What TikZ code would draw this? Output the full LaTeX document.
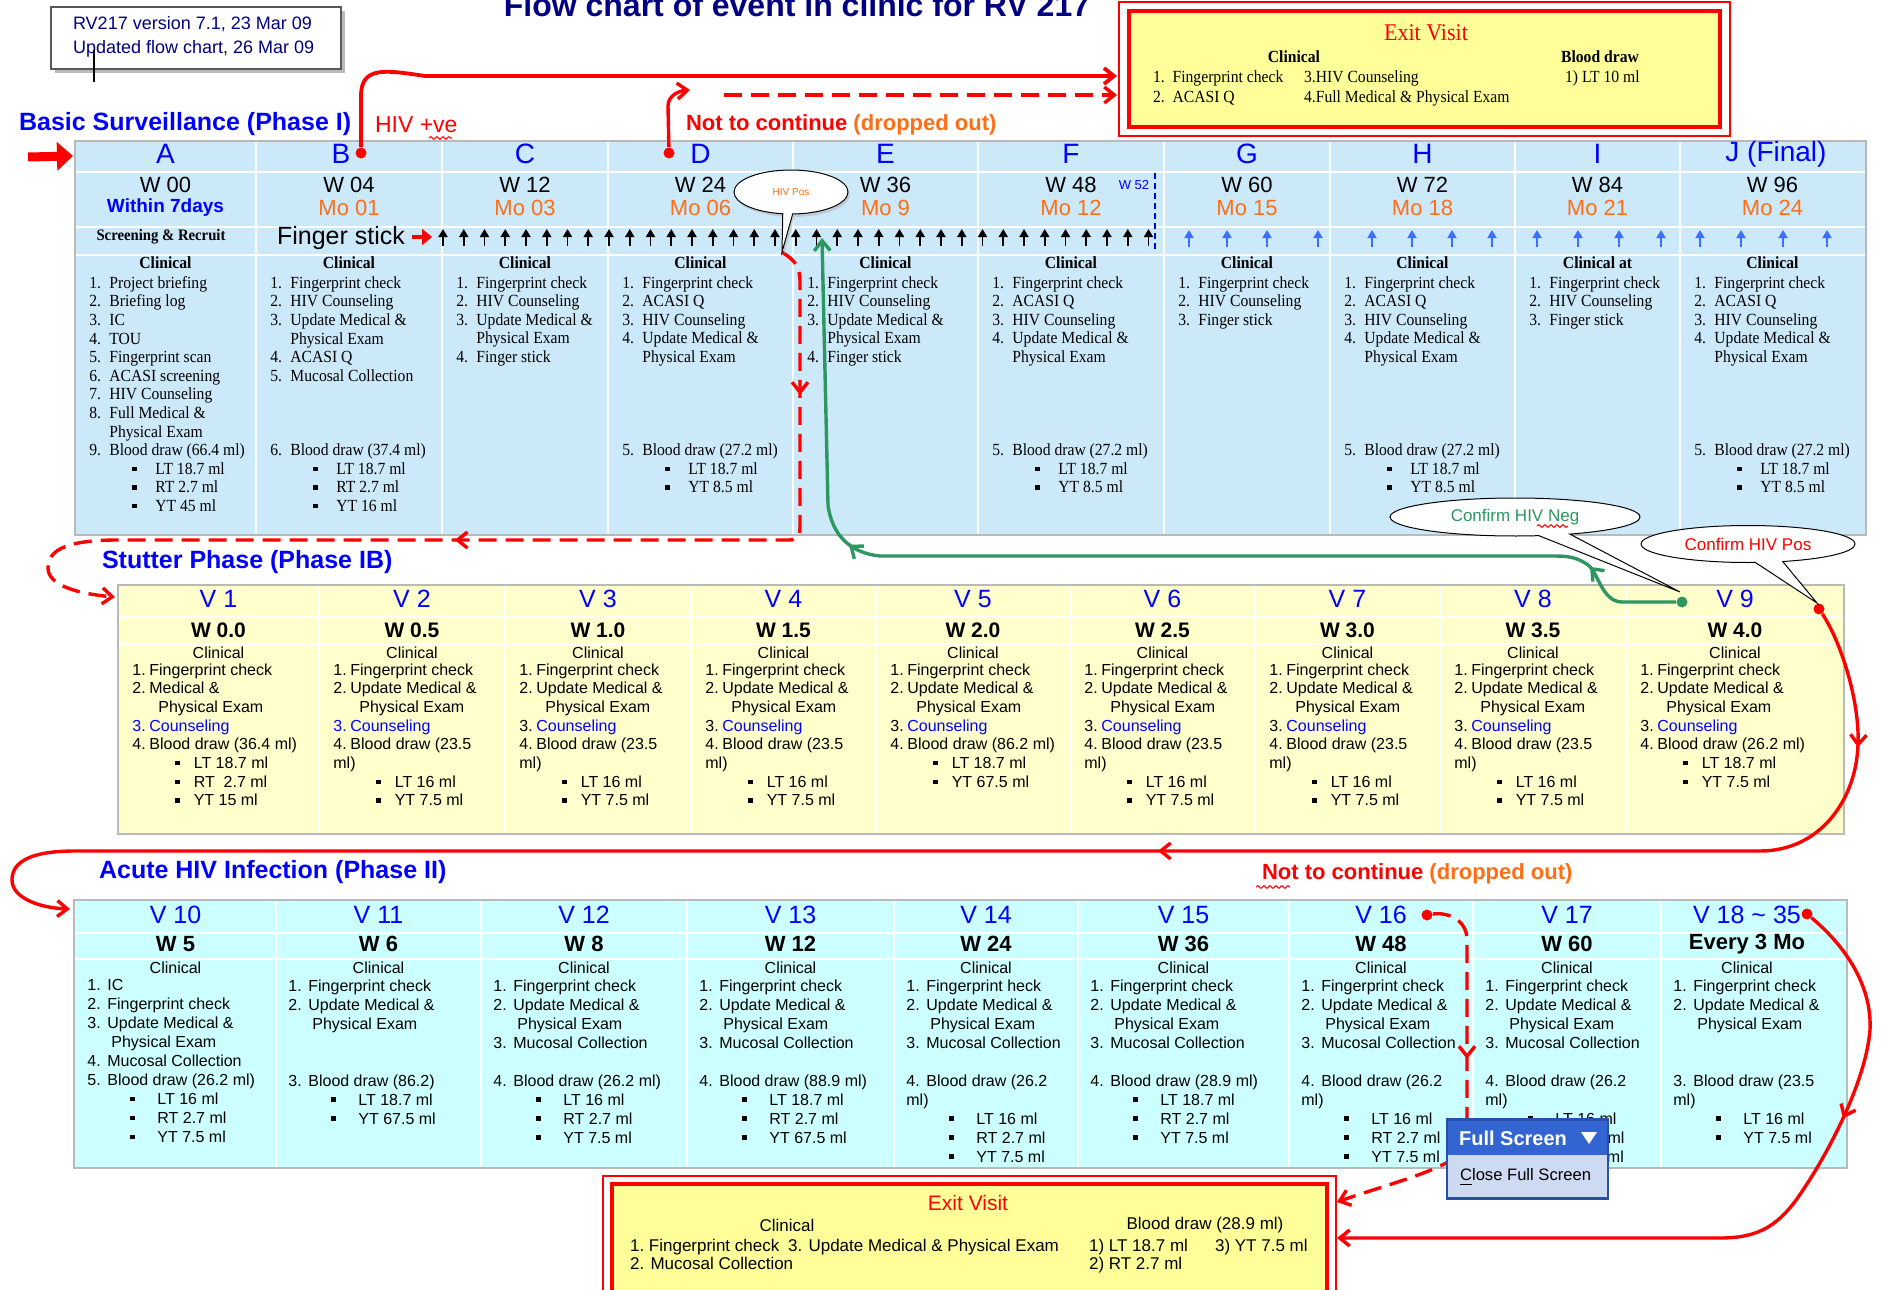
\documentclass[tikz,border=0pt]{standalone}
\usepackage{fontspec}
\setmainfont{Liberation Sans}
\newfontfamily\tnr[FakeStretch=0.92]{Liberation Serif}
\usetikzlibrary{arrows.meta,calc,shapes.callouts,shadows,decorations.markings,decorations.pathmorphing}

\definecolor{pIfill}{RGB}{204,233,250}
\definecolor{pIBfill}{RGB}{255,255,204}
\definecolor{pIIfill}{RGB}{204,255,255}
\definecolor{exfill}{RGB}{255,255,153}
\definecolor{hdblue}{RGB}{0,0,255}
\definecolor{moorange}{RGB}{255,110,20}
\definecolor{navy}{RGB}{0,0,128}
\definecolor{okgreen}{RGB}{46,150,96}
\definecolor{arrblue}{RGB}{60,110,255}
\definecolor{popblue}{RGB}{50,100,210}
\definecolor{poplight}{RGB}{205,218,242}

% list lines of the three tables
\newcommand\pnum[1]{\makebox[10pt][l]{#1}}
\newcommand\pcont{\hspace*{10pt}}
\newcommand\pbul{\hspace*{21.5pt}\rule[1.6pt]{2.2pt}{2.2pt}\hspace*{9.3pt}}
\newcommand\pIshort{\pnum{1.}Fingerprint check\\ \pnum{2.}HIV Counseling\\ \pnum{3.}Finger stick}
\newcommand\pImid{\pnum{1.}Fingerprint check\\ \pnum{2.}HIV Counseling\\ \pnum{3.}Update Medical \&\\ \pcont Physical Exam\\ \pnum{4.}Finger stick}
\newcommand\pIlong{\pnum{1.}Fingerprint check\\ \pnum{2.}ACASI Q\\ \pnum{3.}HIV Counseling\\ \pnum{4.}Update Medical \&\\ \pcont Physical Exam\\ \mbox{}\\ \mbox{}\\ \mbox{}\\ \mbox{}\\ \pnum{5.}Blood draw (27.2 ml)\\ \pbul LT 18.7 ml\\ \pbul YT 8.5 ml}
\newcommand\vnum[1]{\makebox[8.5pt][l]{#1}}
\newcommand\vcont{\hspace*{13pt}}
\newcommand\vbul{\hspace*{21.5pt}\rule[1.6pt]{2.2pt}{2.2pt}\hspace*{7pt}}
\newcommand\vupd{\vnum{1.}Fingerprint check\\ \vnum{2.}Update Medical \&\\ \vcont Physical Exam}
\newcommand\vcoun{\vnum{3.}\textcolor{hdblue}{Counseling}}
\newcommand\vsmall{\vnum{4.}Blood draw (23.5\\ ml)\\ \vbul LT 16 ml\\ \vbul YT 7.5 ml}
\newcommand\anum[1]{\makebox[10pt][l]{#1}}
\newcommand\acont{\hspace*{12pt}}
\newcommand\abul{\hspace*{21.5pt}\rule[1.6pt]{2.2pt}{2.2pt}\hspace*{11.3pt}}
\newcommand\aupd{\anum{1.}Fingerprint check\\ \anum{2.}Update Medical \&\\ \acont Physical Exam}
\newcommand\amuc{\anum{3.}Mucosal Collection\\ \mbox{}}
\newcommand\along{\anum{4.}Blood draw (26.2\\ ml)\\ \abul LT 16 ml\\ \abul RT 2.7 ml\\ \abul YT 7.5 ml}

\begin{document}
\begin{tikzpicture}[x=0.5pt,y=-0.5pt,
	tbl/.style={draw=gray!55,line width=1pt,inner sep=0pt},
	sep/.style={white,line width=1.2pt},
	hdI/.style={text=hdblue,font=\fontsize{14}{16}\selectfont},
	wkI/.style={font=\fontsize{11}{12}\selectfont},
	moI/.style={text=moorange,font=\fontsize{11}{12}\selectfont},
	clI/.style={font=\tnr\bfseries\fontsize{8.5}{10}\selectfont},
	cntI/.style={anchor=north west,inner sep=0pt,align=left,font=\tnr\fontsize{8.5}{9.3}\selectfont,execute at begin node=\strut},
	hdV/.style={text=hdblue,font=\fontsize{12.5}{14}\selectfont},
	wkV/.style={font=\bfseries\fontsize{10.5}{12}\selectfont},
	clV/.style={font=\fontsize{8}{9}\selectfont},
	cntV/.style={anchor=north west,inner sep=0pt,align=left,font=\fontsize{8}{9.35}\selectfont,execute at begin node=\strut},
	cntA/.style={cntV,font=\fontsize{8}{9.5}\selectfont},
	exT/.style={anchor=base west,font=\tnr\fontsize{8.5}{10}\selectfont},
	exB/.style={anchor=base west,font=\fontsize{8.5}{10}\selectfont},
	phase/.style={anchor=west,text=hdblue,font=\bfseries\fontsize{12.5}{14}\selectfont},
	note/.style={anchor=west,font=\bfseries\fontsize{11}{13}\selectfont},
	rdot/.style={circle,fill=red,inner sep=0pt,minimum size=5.5pt},
	gdot/.style={rdot,fill=okgreen},
	flow/.style={red,line width=1.7pt,-{Straight Barb[length=5pt,width=8pt]}},
	drop/.style={flow,dash pattern=on 9pt off 4.5pt},
	okflow/.style={flow,draw=okgreen},
	fsarr/.style={line width=0.9pt,-{Triangle[length=4pt,width=4.5pt]}},
	bubble/.style={ellipse callout,draw,fill=white,line width=0.5pt,inner sep=0pt},
	mark1/.style={postaction={decorate,decoration={markings,mark=at position #1 with {\arrow{Straight Barb[length=5pt,width=8pt]}}}}},
	mark2/.style 2 args={postaction={decorate,decoration={markings,mark=at position #1 with {\arrow{Straight Barb[length=5pt,width=8pt]}},mark=at position #2 with {\arrow{Straight Barb[length=5pt,width=8pt]}}}}},
	squig/.style={red,line width=0.5pt,decorate,decoration={snake,amplitude=0.7pt,segment length=3pt}}
	]
	\useasboundingbox (0,0) rectangle (1887,1290);

	% heading
	\node[anchor=base,text=navy,font=\bfseries\fontsize{16}{18}\selectfont] (title) at (797,17) {Flow chart of event in clinic for RV 217};
	\fill[gray!55] (55,11) rectangle (345,73);
	\node[draw=gray!70!black,fill=white,line width=0.6pt,inner sep=0pt,minimum width=145pt,minimum height=31pt] (verBox) at (196,38) {};
	\node[anchor=west,text=navy,font=\fontsize{9}{11}\selectfont] (ver1) at (66,24) {RV217 version 7.1, 23 Mar 09};
	\node[anchor=west,text=navy,font=\fontsize{9}{11}\selectfont] (ver2) at (66,49) {Updated flow chart, 26 Mar 09};
	\draw[line width=0.6pt] (94,50) -- (94,82);

	% exit visit, top
	\node[fill=exfill,draw=red,line width=2pt,inner sep=0pt,minimum width=295.5pt,minimum height=58pt] (exitT) at (1424.5,69) {};
	\draw[red,line width=1pt] ($(exitT.north west)+(-8,-7)$) rectangle ($(exitT.south east)+(8,7)$);
	\node[text=red,font=\tnr\fontsize{12}{14}\selectfont] (exTtl) at (1426,33) {Exit Visit};
	\node[font=\tnr\bfseries\fontsize{8.5}{10}\selectfont] (exTcl) at (1294,57) {Clinical};
	\node[font=\tnr\bfseries\fontsize{8.5}{10}\selectfont] (exTbd) at (1600,57) {Blood draw};
	\node[exT] (exT1) at (1146,83) {1.\ \ Fingerprint check};
	\node[exT] (exT3) at (1297,83) {3.HIV Counseling};
	\node[exT] (exTb1) at (1558,83) {1) LT 10 ml};
	\node[exT] (exT2) at (1146,102) {2.\ \ ACASI Q};
	\node[exT] (exT4) at (1297,102) {4.Full Medical \& Physical Exam};

	% phase I
	\node[phase] (phI) at (12,124) {Basic Surveillance (Phase I)};
	\node[anchor=west,text=red,font=\fontsize{11.5}{13}\selectfont] (hivp) at (368,125) {HIV +ve};
	\node[note] (drop1) at (679,125) {\textcolor{red}{Not to continue} \textcolor{moorange}{(dropped out)}};
	\draw[squig] (429,138) -- (452,138);
	\node[tbl,fill=pIfill,minimum width=895.5pt,minimum height=197pt] (tabI) at (970.5,338) {};
	\foreach \y in {172,227,255} \draw[sep] (76,\y) -- (1865,\y);
	\foreach \x in {256,442,608,793,978,1164,1330,1515,1680} \draw[sep] (\x,142) -- (\x,534);
	\foreach \x/\l [count=\i] in {165.5/A,341/B,525/C,700.5/D,885.5/E,1071/F,1247/G,1422.5/H,1597.5/I,1776/J (Final)}
		\node[hdI] (lt\i) at (\x,154) {\l};
	\foreach \x/\wk [count=\i] in {165.5/00,349/04,525/12,700.5/24,885.5/36,1071/48,1247/60,1422.5/72,1597.5/84,1772.5/96}
		\node[wkI] (wk\i) at (\x,185) {W \wk};
	\node[text=hdblue,font=\bfseries\fontsize{9.5}{11}\selectfont] (mo1) at (165.5,208) {Within 7days};
	\foreach \x/\m [count=\i from 2] in {349/01,525/03,700.5/06,885.5/9,1071/12,1247/15,1422.5/18,1597.5/21,1772.5/24}
		\node[moI] (mo\i) at (\x,208) {Mo \m};
	\node[text=hdblue,font=\fontsize{6.5}{8}\selectfont] (w52) at (1134,185) {W 52};
	\draw[hdblue,line width=0.8pt,dash pattern=on 3pt off 2pt] (1155,173) -- (1155,252);
	\node[font=\tnr\bfseries\fontsize{8}{10}\selectfont] (scr) at (161,237) {Screening \& Recruit};
	\node[anchor=west,font=\fontsize{12.5}{14}\selectfont] (fsLab) at (270,238) {Finger stick};
	\coordinate (fsEnd) at (432,237);
	\draw[red,line width=2pt,-{Triangle[length=5pt,width=8pt]}] (fsLab.east |- fsEnd) -- (fsEnd);
	\foreach \i in {0,...,34} \draw[fsarr] (443+20.75*\i,246) -- (443+20.75*\i,229);
	\foreach \x in {1189,1227,1267,1318,1372,1412,1452,1492,1537,1578,1619,1661,1700,1741,1783,1827}
		\draw[fsarr,arrblue] (\x,247) -- (\x,230);
	\foreach \x/\c [count=\i] in {165.5/Clinical,349/Clinical,525/Clinical,700.5/Clinical,885.5/Clinical,1071/Clinical,1247/Clinical,1422.5/Clinical,1597.5/Clinical at,1772.5/Clinical}
		\node[clI] (cl\i) at (\x,263) {\c};
	\node[cntI] (itA) at (89,276) {\pnum{1.}Project briefing\\ \pnum{2.}Briefing log\\ \pnum{3.}IC\\ \pnum{4.}TOU\\ \pnum{5.}Fingerprint scan\\ \pnum{6.}ACASI screening\\ \pnum{7.}HIV Counseling\\ \pnum{8.}Full Medical \&\\ \pcont Physical Exam\\ \pnum{9.}Blood draw (66.4 ml)\\ \pbul LT 18.7 ml\\ \pbul RT 2.7 ml\\ \pbul YT 45 ml};
	\node[cntI] (itB) at (270,276) {\pnum{1.}Fingerprint check\\ \pnum{2.}HIV Counseling\\ \pnum{3.}Update Medical \&\\ \pcont Physical Exam\\ \pnum{4.}ACASI Q\\ \pnum{5.}Mucosal Collection\\ \mbox{}\\ \mbox{}\\ \mbox{}\\ \pnum{6.}Blood draw (37.4 ml)\\ \pbul LT 18.7 ml\\ \pbul RT 2.7 ml\\ \pbul YT 16 ml};
	\node[cntI] (itC) at (456,276) {\pImid};
	\node[cntI] (itD) at (622,276) {\pIlong};
	\node[cntI] (itE) at (807,276) {\pImid};
	\node[cntI] (itF) at (992,276) {\pIlong};
	\node[cntI] (itG) at (1178,276) {\pIshort};
	\node[cntI] (itH) at (1344,276) {\pIlong};
	\node[cntI] (itI) at (1529,276) {\pIshort};
	\node[cntI] (itJ) at (1694,276) {\pIlong};

	% phase IB
	\node[phase] (phIB) at (95,562) {Stutter Phase (Phase IB)};
	\node[tbl,fill=pIBfill,minimum width=863pt,minimum height=124.5pt] (tabIB) at (981,709.5) {};
	\foreach \y in {617,644} \draw[sep] (119,\y) -- (1843,\y);
	\foreach \x in {319,505,691,876,1070,1255,1440,1626} \draw[sep] (\x,586) -- (\x,833);
	\foreach \x/\vn/\wk [count=\i] in {218.5/1/0.0,412/2/0.5,598/3/1.0,783.5/4/1.5,973/5/2.0,1162.5/6/2.5,1347.5/7/3.0,1533/8/3.5,1735/9/4.0}{
		\node[hdV] (vb\i) at (\x,599) {V \vn};
		\node[wkV] (wb\i) at (\x,630) {W \wk};
		\node[clV] (cb\i) at (\x,653) {Clinical};
	}
	\node[cntV] (ib1) at (132,663) {\vnum{1.}Fingerprint check\\ \vnum{2.}Medical \&\\ \vcont Physical Exam\\ \textcolor{hdblue}{\vnum{3.}Counseling}\\ \vnum{4.}Blood draw (36.4 ml)\\ \vbul LT 18.7 ml\\ \vbul RT\ \ 2.7 ml\\ \vbul YT 15 ml};
	\node[cntV] (ib2) at (333,663) {\vupd\\ \textcolor{hdblue}{\vnum{3.}Counseling}\\ \vsmall};
	\node[cntV] (ib3) at (519,663) {\vupd\\ \vcoun\\ \vsmall};
	\node[cntV] (ib4) at (705,663) {\vupd\\ \vcoun\\ \vsmall};
	\node[cntV] (ib5) at (890,663) {\vupd\\ \vcoun\\ \vnum{4.}Blood draw (86.2 ml)\\ \vbul LT 18.7 ml\\ \vbul YT 67.5 ml};
	\node[cntV] (ib6) at (1084,663) {\vupd\\ \vcoun\\ \vsmall};
	\node[cntV] (ib7) at (1269,663) {\vupd\\ \vcoun\\ \vsmall};
	\node[cntV] (ib8) at (1454,663) {\vupd\\ \vcoun\\ \vsmall};
	\node[cntV] (ib9) at (1640,663) {\vupd\\ \vcoun\\ \vnum{4.}Blood draw (26.2 ml)\\ \vbul LT 18.7 ml\\ \vbul YT 7.5 ml};

	% phase II
	\node[phase] (phII) at (92,872) {Acute HIV Infection (Phase II)};
	\node[note] (drop2) at (1255,874) {\textcolor{red}{Not to continue} \textcolor{moorange}{(dropped out)}};
	\draw[squig] (1256,887) -- (1290,887);
	\node[tbl,fill=pIIfill,minimum width=886.5pt,minimum height=134pt] (tabII) at (960.5,1034) {};
	\foreach \y in {933,959} \draw[sep] (75,\y) -- (1846,\y);
	\foreach \x in {276,481,687,894,1078,1289,1473,1661} \draw[sep] (\x,901) -- (\x,1167);
	\foreach \x/\vn/\wk [count=\i] in {175.5/V 10/W 5,378.5/V 11/W 6,584/V 12/W 8,790.5/V 13/W 12,986/V 14/W 24,1183.5/V 15/W 36,1381/V 16/W 48,1567/V 17/W 60,1747/V 18 \textasciitilde{} 35/Every 3 Mo}{
		\node[hdV] (va\i) at (\x,915) {\vn};
		\node[wkV,font=\bfseries\fontsize{11}{13}\selectfont] (wa\i) at (\x,944) {\wk};
		\node[clV] (ca\i) at (\x,968) {Clinical};
	}
	\node[cntA] (a10) at (87,979) {\anum{1.}IC\\ \anum{2.}Fingerprint check\\ \anum{3.}Update Medical \&\\ \acont Physical Exam\\ \anum{4.}Mucosal Collection\\ \anum{5.}Blood draw (26.2 ml)\\ \abul LT 16 ml\\ \abul RT 2.7 ml\\ \abul YT 7.5 ml};
	\node[cntA] (a11) at (288,979) {\aupd\\ \mbox{}\\ \mbox{}\\ \anum{3.}Blood draw (86.2)\\ \abul LT 18.7 ml\\ \abul YT 67.5 ml};
	\node[cntA] (a12) at (493,979) {\aupd\\ \amuc\\ \anum{4.}Blood draw (26.2 ml)\\ \abul LT 16 ml\\ \abul RT 2.7 ml\\ \abul YT 7.5 ml};
	\node[cntA] (a13) at (699,979) {\aupd\\ \amuc\\ \anum{4.}Blood draw (88.9 ml)\\ \abul LT 18.7 ml\\ \abul RT 2.7 ml\\ \abul YT 67.5 ml};
	\node[cntA] (a14) at (906,979) {\anum{1.}Fingerprint heck\\ \anum{2.}Update Medical \&\\ \acont Physical Exam\\ \amuc\\ \along};
	\node[cntA] (a15) at (1090,979) {\aupd\\ \amuc\\ \anum{4.}Blood draw (28.9 ml)\\ \abul LT 18.7 ml\\ \abul RT 2.7 ml\\ \abul YT 7.5 ml};
	\node[cntA] (a16) at (1301,979) {\aupd\\ \amuc\\ \along};
	\node[cntA] (a17) at (1485,979) {\aupd\\ \amuc\\ \along};
	\node[cntA] (a18) at (1673,979) {\aupd\\ \mbox{}\\ \mbox{}\\ \anum{3.}Blood draw (23.5\\ ml)\\ \abul LT 16 ml\\ \abul YT 7.5 ml};

	% exit visit, bottom
	\node[fill=exfill,draw=red,line width=2pt,inner sep=0pt,minimum width=357.5pt,minimum height=56pt] (exitB) at (969.5,1240) {};
	\draw[red,line width=1pt] ($(exitB.north west)+(-7,-6)$) rectangle ($(exitB.south east)+(7,6)$);
	\node[text=red,font=\fontsize{10.5}{12}\selectfont] (exBtl) at (968,1203) {Exit Visit};
	\node[font=\fontsize{8.5}{10}\selectfont] (exBcl) at (787,1225) {Clinical};
	\node[font=\fontsize{8.5}{10}\selectfont] (exBbd) at (1205,1225) {Blood draw (28.9 ml)};
	\node[exB] (exB1) at (623,1251) {1.\ Fingerprint check};
	\node[exB] (exB3) at (781,1251) {3. Update Medical \& Physical Exam};
	\node[exB] (exB2) at (623,1269) {2. Mucosal Collection};
	\node[exB] (exBb1) at (1082,1251) {1) LT 18.7 ml};
	\node[exB] (exBb3) at (1208,1251) {3) YT 7.5 ml};
	\node[exB] (exBb2) at (1082,1269) {2) RT 2.7 ml};

	% dots and connectors
	\node[rdot] (dotB) at (361,153) {};
	\node[rdot] (dotD) at (669,153) {};
	\node[rdot] (dot9) at (1819,609) {};
	\node[rdot] (dot16) at (1427,915) {};
	\node[rdot] (dot18) at (1807,914) {};
	\node[gdot] (gDot) at (1682,602) {};
	\coordinate (arrS) at (28,157);
	\coordinate (inPI) at ($(tabI.north west)+(-1,16)$);
	\coordinate (inHIV) at ($(exitT.west)+(-10,7)$);
	\coordinate (inDrop) at ($(exitT.west)+(-10,26)$);
	\coordinate (dropUp) at (690,90);
	\coordinate (dropS) at (724,95);
	\coordinate (hpTip) at (782,252);
	\coordinate (inV1) at ($(tabIB.north west)+(-2,13)$);
	\coordinate (gTip) at (822,238);
	\coordinate (inV10) at ($(tabII.north west)+(-3,10)$);
	\coordinate (inB1) at ($(exitB.east)+(8,-38)$);
	\coordinate (inB2) at ($(exitB.east)+(8,-2)$);
	\draw[red,line width=4.5pt,-{Triangle[length=8pt,width=14pt]}] (arrS) -- (inPI);
	\draw[flow,line width=1.9pt] (dotB) -- (361,96) .. controls (361,66) and (385,70) .. (425,76) -- (inHIV);
	\draw[flow] (dotD) -- (668,106) .. controls (668,96) and (678,91) .. (dropUp);
	\draw[drop] (dropS) -- (inDrop);
	\draw[drop,mark2={75pt}{318pt}] (hpTip) .. controls (790,258) and (800,262) .. (800,282) -- (800,528) .. controls (800,537) and (796,540) .. (788,540) -- (118,540) .. controls (62,540) and (48,552) .. (48,568) .. controls (48,586) and (80,594) .. (inV1);
	\draw[okflow,mark2={52pt}{425pt}] (gDot) -- (1622,602) .. controls (1602,602) and (1598,572) .. (1588,565) .. controls (1578,558) and (1570,556) .. (1555,556) -- (880,556) .. controls (850,553) and (832,535) .. (828,505) -- (gTip);
	\draw[flow,mark2={70pt}{450pt}] (dot9) .. controls (1840,640) and (1860,700) .. (1858,745) .. controls (1856,800) and (1820,851) .. (1760,851) -- (75,851) .. controls (30,851) and (12,862) .. (12,880) .. controls (12,898) and (40,908) .. (inV10);
	\draw[drop,mark1={84pt}] (dot16) .. controls (1445,912) and (1467,918) .. (1467,940) -- (1467,1140) .. controls (1467,1165) and (1400,1180) .. (inB1);
	\draw[flow,mark1={112pt}] (dot18) .. controls (1850,950) and (1872,990) .. (1870,1030) .. controls (1866,1080) and (1830,1150) .. (1803,1190) .. controls (1780,1225) and (1760,1238) .. (1720,1238) -- (inB2);

	% callouts
	\node[bubble,callout absolute pointer={(hpTip)},callout pointer arc=10,minimum width=57pt,minimum height=22pt,text=moorange,font=\fontsize{5}{6}\selectfont,drop shadow={shadow xshift=1pt,shadow yshift=-1.5pt,fill=gray!60}] (hpCall) at (791,192) {HIV Pos};
	\coordinate (cnTip) at (1680,592);
	\node[bubble,callout absolute pointer={(cnTip)},minimum width=125pt,minimum height=19pt,text=okgreen,font=\fontsize{8.5}{10}\selectfont] (cnCall) at (1515,517) {Confirm HIV Neg};
	\draw[squig] (1537,526) -- (1568,526);
	\coordinate (cpTip) at (1817,603);
	\node[bubble,callout absolute pointer={(cpTip)},minimum width=107pt,minimum height=18.5pt,text=red,font=\fontsize{8.5}{10}\selectfont] (cpCall) at (1748,544) {Confirm HIV Pos};

	% full screen menu
	\node[fill=poplight,inner sep=0pt,minimum width=80pt,minimum height=39pt] (fsPop) at (1527.5,1159) {};
	\fill[popblue] (fsPop.north west) rectangle ($(fsPop.north east)+(0,35)$);
	\draw[popblue!80!black,line width=1.2pt] (fsPop.north west) rectangle (fsPop.south east);
	\node[anchor=west,text=white,font=\bfseries\fontsize{10}{12}\selectfont] (fsTtl) at (1452,1138) {Full Screen};
	\fill[white] (1581,1132) -- (1597,1132) -- (1589,1144) -- cycle;
	\node[anchor=west,font=\fontsize{8.3}{10}\selectfont] (fsClose) at (1453,1177) {\underline{C}lose Full Screen};
\end{tikzpicture}
\end{document}
